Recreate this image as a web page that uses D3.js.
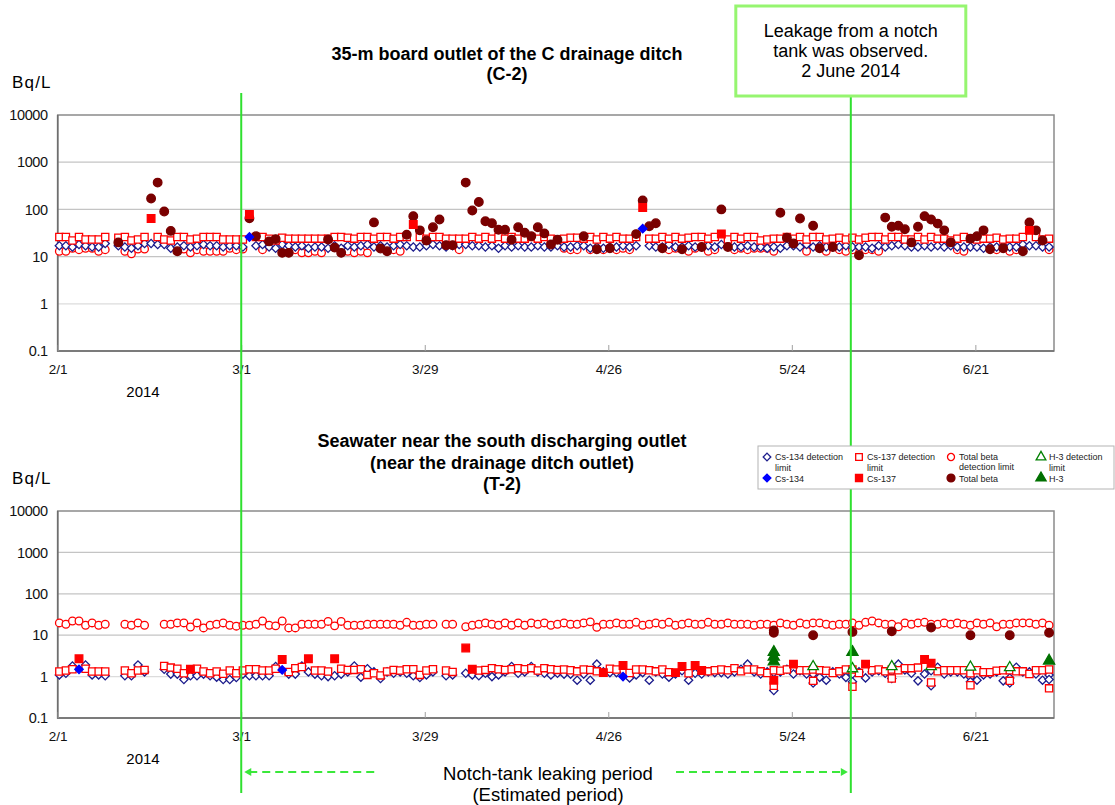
<!DOCTYPE html>
<html>
<head>
<meta charset="utf-8">
<script src="https://cdn.jsdelivr.net/npm/d3@7"></script>
<style>
  body { margin: 0; background: #fff; }
  svg { display: block; font-family: "Liberation Sans", Arial, sans-serif; }
</style>
</head>
<body>
<svg id="chart" width="1115" height="805"></svg>
<script>
// index of every daily array = days after 1 Feb 2014, null = no point that day
const xTickDays = [0, 28, 56, 84, 112, 140];          // 2/1 3/1 3/29 4/26 5/24 6/21
const yTicks = [0.1, 1, 10, 100, 1000, 10000];
const leakStartDay = 28;                               // 1 March
const leakFoundDay = 121;                              // 2 June

// ---- C-2 (35-m board outlet of the C drainage ditch)
const c2Cs134Dl = [
  17,17,16,18,17,16,16,19,null,17,
  16,15,17,19,19,18,18,15,16,17,
  16,17,18,17,17,16,17,17,16,null,
  17,18,16,15,18,17,16,17,15,16,
  16,15,17,15,17,16,17,18,16,17,
  16,17,18,17,16,16,17,18,17,16,
  17,18,18,17,17,16,17,15,17,16,
  17,16,16,17,16,16,17,16,16,17,
  17,15,16,15,16,16,17,16,17,null,
  17,16,16,18,16,16,17,16,16,17,
  16,18,17,16,16,17,16,16,15,16,
  15,17,17,16,18,16,17,16,16,16,
  17,16,16,16,15,17,16,17,18,17,
  16,16,17,16,17,16,17,16,16,16,
  16,15,16,16,17,16,16,18,17,17,
  16,16];
const c2Cs137Dl = [
  26,26,22,26,23,23,23,26,null,25,
  26,22,23,26,null,26,23,22,26,26,
  23,24,26,26,26,23,23,23,23,null,
  26,26,24,22,25,24,24,24,24,24,
  24,24,26,26,25,24,26,26,24,26,
  26,24,26,26,null,26,24,26,26,24,
  24,24,24,26,24,26,24,26,24,26,
  24,24,26,24,26,24,23,24,25,25,
  24,26,23,26,24,26,24,24,26,null,
  24,24,26,24,26,24,25,26,26,24,
  26,null,23,26,24,26,26,22,23,24,
  24,26,24,26,23,26,26,23,24,25,
  23,25,23,25,26,26,23,26,26,23,
  23,26,23,26,24,24,22,24,26,24,
  23,24,24,25,23,24,24,26,null,26,
  23,24];
const c2BetaDl = [
  13,13,15,14,15,15,13,14,null,null,
  13,11.5,14.5,14.5,null,null,null,null,null,14.5,
  12,14,13,13,13,13,15,14,14.5,null,
  null,14,null,null,null,null,14,12,12,13,
  12,null,null,null,13,12,13,12,null,null,
  null,14,13,null,null,null,null,null,null,null,
  null,14,null,null,null,null,null,null,null,null,
  null,null,null,null,null,null,null,15,14,14,
  null,14,null,14,null,14,15,14,null,null,
  null,null,null,14,15,null,13,15,null,13,
  14,null,null,14,15,14,15,15,15,13,
  null,null,null,null,13,null,null,13,null,14,
  13,14,null,14,14,13,null,null,null,null,
  null,null,null,null,null,null,null,14,13,null,
  null,null,null,14,null,13,14,null,null,null,
  null,14];
// detected values: [day, Bq/L]
const c2Cs134 = [[29, 26], [89, 39]];
const c2Cs137 = [[14, 64], [29, 78], [54, 48], [89, 110], [101, 30], [148, 36]];
const c2Beta = [
  [9, 20], [14, 170], [15, 370], [16, 90], [17, 35], [18, 13], [29, 65], [30, 27],
  [32, 21], [33, 23.5], [34, 12], [35, 12], [41, 23], [42, 15.5], [43, 12], [48, 53],
  [49, 14.8], [50, 13], [53, 29], [54, 72], [55, 36], [56, 22], [57, 42], [58, 61],
  [59, 17.5], [60, 17.5], [62, 370], [63, 95], [64, 143], [65, 56], [66, 51], [67, 37],
  [68, 37], [69, 22.7], [70, 42], [71, 32], [72, 27], [73, 42], [74, 31], [75, 18],
  [76, 22.7], [80, 27], [82, 14.3], [84, 15], [88, 30], [89, 155], [90, 44], [91, 51],
  [92, 15], [95, 14.3], [98, 16], [101, 100], [102, 16], [110, 85], [111, 25], [112, 19],
  [113, 64], [115, 45], [116, 15], [118, 16], [122, 10.7], [126, 67], [127, 43], [128, 45],
  [129, 38], [130, 20], [131, 43], [132, 72], [133, 61], [134, 50], [135, 36], [136, 20],
  [139, 24], [140, 27], [141, 36], [142, 14.3], [144, 15], [147, 13], [148, 53], [149, 36],
  [150, 22]];

// ---- T-2 (seawater near the south discharging outlet)
const t2Cs134Dl = [
  1.1,1.2,1.8,null,1.9,1.1,1.1,1.05,null,null,
  1.05,1.05,1.9,1.3,null,null,1.5,1.15,1.15,0.85,
  1.05,1.05,1.15,1.05,0.97,0.85,0.85,0.95,1.15,1.05,
  1.05,1.05,1.05,1.75,null,1.15,1.15,1.8,1.3,1.15,
  1.05,1.0,1.05,1.15,1.3,1.8,0.97,1.55,1.3,0.9,
  1.3,1.2,1.3,1.2,1.05,0.95,1.1,1.3,null,1.05,
  1.1,null,1.2,1.1,1.05,1.2,1.0,1.1,1.3,1.75,
  1.2,1.3,1.75,1.3,1.2,1.1,1.2,1.15,1.15,0.82,
  1.15,0.82,2.0,1.3,1.25,1.25,null,0.93,1.1,1.25,
  0.82,1.3,1.16,0.97,1.16,1.39,0.82,1.2,1.16,1.3,
  1.25,1.25,1.16,1.3,1.5,2.0,1.3,1.16,1.3,1.25,
  1.3,1.5,1.16,1.39,1.16,1.16,0.96,0.82,1.3,1.16,
  0.96,1.16,1.3,0.93,1.3,1.39,1.2,1.3,2.0,1.45,
  1.2,0.79,1.16,1.39,1.68,1.16,1.3,1.3,1.16,0.96,
  0.82,1.1,1.16,1.3,0.79,0.93,1.68,1.3,1.3,1.16,
  0.82,1.1];
const t2Cs137Dl = [
  1.33,1.41,1.5,null,1.55,1.33,1.33,1.33,null,null,
  1.41,1.2,1.41,1.45,null,null,1.8,1.65,1.55,1.2,
  null,1.55,1.33,1.2,1.33,1.17,1.41,1.2,1.41,1.5,
  1.5,1.41,1.41,1.55,null,1.29,1.6,1.7,null,1.41,
  1.41,1.33,null,1.55,1.45,1.45,1.5,1.1,1.2,1.07,
  1.33,1.45,1.41,1.5,1.5,1.1,1.41,1.5,null,1.41,
  1.3,null,null,null,1.41,1.45,1.6,1.5,1.45,1.5,
  1.6,1.5,1.6,1.4,1.6,1.5,1.45,1.48,1.42,1.34,
  1.48,1.45,1.34,null,1.55,1.48,null,1.22,1.48,1.48,
  1.42,1.34,1.48,1.28,null,null,1.2,null,null,1.34,
  1.42,1.48,1.42,1.6,1.34,1.48,1.48,1.34,1.22,1.42,
  1.39,1.48,null,1.42,1.42,1.48,1.42,1.39,1.22,1.34,
  1.48,1.48,1.22,null,1.42,1.48,1.34,1.48,1.42,1.6,
  1.6,1.65,null,null,1.34,1.42,1.42,1.42,1.42,1.2,
  1.42,1.28,1.28,1.39,1.42,1.42,1.34,1.34,1.16,1.42,
  1.42,1.48];
const t2BetaDl = [
  19.8,18.4,22,22,17.4,19.8,17.4,18.4,null,null,
  18.4,17.4,19.8,17.4,null,null,18.4,18.4,19.8,19.8,
  15.8,19.8,15,17.4,18.4,19.8,17.4,16.5,17.4,17.4,
  18.4,22,17.4,16.8,22,15,15,18.4,18.4,18.4,
  18.4,21.5,16.8,21.5,17.4,17.4,17.4,18.4,18.4,18.4,
  18.4,18.4,17.4,20.5,17.4,17.4,18.4,18.4,null,18.4,
  18.4,null,16,17.4,18.4,19.8,18.4,17.4,19.8,17.4,
  19.8,17.4,19.8,18.4,19.8,17.4,18.4,19.8,18.4,18.4,
  19.8,21,15.5,18.4,18.4,19.8,18.4,18.4,20.5,17.4,
  18.4,19.8,18.4,20.5,17.4,18.4,19.8,18.4,18.4,20.5,
  18.4,18.4,19.8,18.4,18.4,18.4,17.4,18.4,18.4,17.4,
  19.8,18.4,17.4,19.8,18.4,19.8,19.8,18.4,17.4,18.4,
  18.4,19.8,17.4,20.5,22,19.8,18.4,18.4,16,19.8,
  18.4,19.8,20.5,18.4,18.4,19.8,18.4,19.8,18.4,17.4,
  19.8,18.4,19.8,16,18.4,18.4,19.8,19.8,19.8,18.4,
  19.8,17.4];
// weekly detailed samples (lower detection limits) and detected values: [day, Bq/L]
const t2Cs134DlLow = [[109, 0.46], [115, 0.7], [121, 0.75], [127, 0.9], [133, 0.6], [139, 0.75], [145, 0.7], [151, 0.85]];
const t2Cs137DlLow = [[109, 0.6], [115, 0.79], [121, 0.57], [127, 0.9], [133, 0.72], [139, 0.62], [145, 0.79], [151, 0.52]];
const t2H3Dl = [[115, 1.75], [121, 1.55], [127, 1.75], [133, 1.75], [139, 1.7], [145, 1.65]];
const t2Cs134 = [[3, 1.5], [34, 1.45], [86, 1.0]];
const t2Cs137 = [
  [3, 2.7], [20, 1.5], [34, 2.6], [38, 2.7], [42, 2.7], [62, 4.9], [63, 1.5], [83, 1.25],
  [86, 1.86], [94, 1.25], [95, 1.75], [97, 1.86], [98, 1.4], [109, 0.82], [112, 2.0],
  [123, 2.0], [132, 2.6], [133, 2.1]];
const t2Beta = [[109, 13], [109, 11.5], [115, 10], [121, 12], [127, 12.4], [133, 15.3], [139, 10], [145, 10], [151, 11.5]];
const t2H3 = [[109, 3.9], [109, 3.0], [109, 2.3], [121, 3.9], [151, 2.4]];

const svg = d3.select("#chart");
const left = 57.7, right = 1054;

const dayDate = (d, h) => new Date(Date.UTC(2014, 1, 1 + d, h || 0));
const x = d3.scaleUtc()
    .domain([dayDate(0), dayDate(152)])
    .range([left, right]);

const daily = arr => arr.map((v, i) => [i, v]).filter(p => p[1] != null);

// marker styles
const styles = {
  cs134Dl: {type: d3.symbolSquare, size: 34, rot: 45, stroke: "#1c1c8c", fill: "#fff"},
  cs134:   {type: d3.symbolSquare, size: 36, rot: 45, stroke: "#0000ff", fill: "#0000ff"},
  cs137Dl: {type: d3.symbolSquare, size: 52, rot: 0, stroke: "#ff0000", fill: "#fff"},
  cs137:   {type: d3.symbolSquare, size: 58, rot: 0, stroke: "#ff0000", fill: "#ff0000"},
  betaDl:  {type: d3.symbolCircle, size: 46, rot: 0, stroke: "#ff0000", fill: "#fff"},
  beta:    {type: d3.symbolCircle, size: 58, rot: 0, stroke: "#7a0000", fill: "#7a0000"},
  h3Dl:    {type: d3.symbolTriangle, size: 48, rot: 0, stroke: "#008000", fill: "#fff"},
  h3:      {type: d3.symbolTriangle, size: 54, rot: 0, stroke: "#007000", fill: "#007000"}
};

function drawMarks(g, y, points, st) {
  g.append("g").selectAll("path")
    .data(points)
    .join("path")
    .attr("d", d3.symbol().type(st.type).size(st.size))
    .attr("transform", d => `translate(${x(dayDate(d[0], 6))},${y(d[1])}) rotate(${st.rot})`)
    .style("fill", st.fill)
    .style("stroke", st.stroke)
    .style("stroke-width", 1.3);
}

function drawPanel(top, bottom, series) {
  const y = d3.scaleLog().domain([0.1, 10000]).range([bottom, top]);
  const g = svg.append("g");

  // grid
  g.selectAll(".grid")
    .data(yTicks.slice(1, -1))
    .join("line")
    .attr("x1", left).attr("x2", right)
    .attr("y1", d => y(d)).attr("y2", d => y(d))
    .style("stroke", d => d === 1 ? "#dcdcdc" : "#c4c4c4")
    .style("stroke-width", 1.2);

  // frame
  g.append("rect")
    .attr("x", left).attr("y", top)
    .attr("width", right - left).attr("height", bottom - top)
    .style("fill", "none").style("stroke", "#8a8a8a").style("stroke-width", 1.5);
  g.append("path")
    .attr("d", `M${left},${top}V${bottom}H${right}`)
    .style("fill", "none").style("stroke", "#6e6e6e").style("stroke-width", 1.6);

  // y axis
  const ya = g.append("g")
    .attr("transform", `translate(${left},0)`)
    .call(d3.axisLeft(y).tickValues(yTicks).tickSize(0).tickPadding(10).tickFormat(d => String(d)));
  ya.select(".domain").remove();
  ya.selectAll("text").style("font-size", "14.5px").style("fill", "#111")
    .style("font-family", "'Liberation Sans', Arial, sans-serif").style("letter-spacing", "-0.4px");

  // x axis (small inside ticks, labels below)
  const xa = g.append("g")
    .attr("transform", `translate(0,${bottom})`)
    .call(d3.axisBottom(x).tickValues(xTickDays.map(d => dayDate(d)))
      .tickFormat(d3.utcFormat("%-m/%-d")).tickSizeInner(-6).tickSizeOuter(0).tickPadding(13));
  xa.select(".domain").remove();
  xa.selectAll("line").style("stroke", "#a0a0a0");
  xa.selectAll("text").style("font-size", "13.5px").style("fill", "#111")
    .style("font-family", "'Liberation Sans', Arial, sans-serif");

  g.append("text")
    .attr("x", 143).attr("y", bottom + 46)
    .attr("text-anchor", "middle")
    .style("font-size", "15px")
    .text("2014");

  g.append("text")
    .attr("x", 12).attr("y", top - 27)
    .style("font-size", "17px")
    .style("letter-spacing", "1.2px")
    .text("Bq/L");

  series.forEach(s => drawMarks(g, y, s[0], styles[s[1]]));
}

// C-2 panel
drawPanel(115, 351, [
  [daily(c2BetaDl), "betaDl"],
  [daily(c2Cs134Dl), "cs134Dl"],
  [daily(c2Cs137Dl), "cs137Dl"],
  [c2Beta, "beta"],
  [c2Cs137, "cs137"],
  [c2Cs134, "cs134"]
]);

// T-2 panel
drawPanel(511, 718, [
  [daily(t2BetaDl), "betaDl"],
  [daily(t2Cs134Dl), "cs134Dl"],
  [t2Cs134DlLow, "cs134Dl"],
  [daily(t2Cs137Dl), "cs137Dl"],
  [t2Cs137DlLow, "cs137Dl"],
  [t2H3Dl, "h3Dl"],
  [t2Beta, "beta"],
  [t2Cs137, "cs137"],
  [t2Cs134, "cs134"],
  [t2H3, "h3"]
]);

// titles
function title(lines, x0, y0, dy) {
  svg.append("g").selectAll("text")
    .data(lines)
    .join("text")
    .attr("x", x0).attr("y", (d, i) => y0 + i * dy)
    .attr("text-anchor", "middle")
    .style("font-size", "18px")
    .style("font-weight", "bold")
    .text(d => d);
}
title(["35-m board outlet of the C drainage ditch", "(C-2)"], 507, 60, 20);
title(["Seawater near the south discharging outlet", "(near the drainage ditch outlet)", "(T-2)"], 502, 447, 21.5);

// leak period lines
const green = "#2fe02f";
svg.append("line")
  .attr("x1", x(dayDate(leakStartDay))).attr("x2", x(dayDate(leakStartDay)))
  .attr("y1", 93).attr("y2", 793)
  .style("stroke", green).style("stroke-width", 2);
svg.append("line")
  .attr("x1", x(dayDate(leakFoundDay))).attr("x2", x(dayDate(leakFoundDay)))
  .attr("y1", 97).attr("y2", 793)
  .style("stroke", green).style("stroke-width", 2);

// annotation box
const boxX = x(dayDate(leakFoundDay));
svg.append("rect")
  .attr("x", boxX - 115).attr("y", 6)
  .attr("width", 230).attr("height", 90)
  .style("fill", "#fff").style("stroke", "#96f570").style("stroke-width", 3);
svg.append("g").selectAll("text")
  .data(["Leakage from a notch", "tank was observed.", "2 June 2014"])
  .join("text")
  .attr("x", boxX).attr("y", (d, i) => 37 + i * 20)
  .attr("text-anchor", "middle")
  .style("font-size", "18px")
  .text(d => d);

// leaking period arrows
const arrowY = 772;
const xs = x(dayDate(leakStartDay)) + 3, xe = x(dayDate(leakFoundDay)) - 3;
svg.append("line").attr("x1", xs + 5).attr("x2", 376).attr("y1", arrowY).attr("y2", arrowY)
  .style("stroke", "#3ae83a").style("stroke-width", 2).style("stroke-dasharray", "8,5");
svg.append("line").attr("x1", 676).attr("x2", xe - 5).attr("y1", arrowY).attr("y2", arrowY)
  .style("stroke", "#3ae83a").style("stroke-width", 2).style("stroke-dasharray", "8,5");
svg.append("path").attr("d", `M${xs},${arrowY}l7,-4v8z`).style("fill", "#3ae83a");
svg.append("path").attr("d", `M${xe},${arrowY}l-7,-4v8z`).style("fill", "#3ae83a");
svg.append("g").selectAll("text")
  .data(["Notch-tank leaking period", "(Estimated period)"])
  .join("text")
  .attr("x", 548).attr("y", (d, i) => 780 + i * 21)
  .attr("text-anchor", "middle")
  .style("font-size", "18.5px")
  .text(d => d);

// legend
const legend = svg.append("g");
legend.append("rect")
  .attr("x", 758).attr("y", 446).attr("width", 356).attr("height", 43)
  .style("fill", "#fff").style("stroke", "#b4b4b4").style("stroke-width", 1);
const legendItems = [
  {x: 767, open: "cs134Dl", filled: "cs134", l1: "Cs-134 detection", l2: "limit", l2y: 471, name: "Cs-134", ny: 482},
  {x: 859, open: "cs137Dl", filled: "cs137", l1: "Cs-137 detection", l2: "limit", l2y: 471, name: "Cs-137", ny: 482},
  {x: 951, open: "betaDl", filled: "beta", l1: "Total beta", l2: "detection limit", l2y: 470, name: "Total beta", ny: 482},
  {x: 1041, open: "h3Dl", filled: "h3", l1: "H-3 detection", l2: "limit", l2y: 471, name: "H-3", ny: 482}
];
legendItems.forEach(it => {
  [[it.open, 457], [it.filled, 478]].forEach(([k, yy]) => {
    const st = styles[k];
    legend.append("path")
      .attr("d", d3.symbol().type(st.type).size(st.size * 0.85))
      .attr("transform", `translate(${it.x},${yy}) rotate(${st.rot})`)
      .style("fill", st.fill).style("stroke", st.stroke).style("stroke-width", 1.3);
  });
  [[it.l1, 460], [it.l2, it.l2y], [it.name, it.ny]].forEach(([t, yy]) => {
    legend.append("text")
      .attr("x", it.x + 8).attr("y", yy)
      .style("font-size", "9px")
      .style("fill", "#222")
      .text(t);
  });
});
</script>
</body>
</html>
